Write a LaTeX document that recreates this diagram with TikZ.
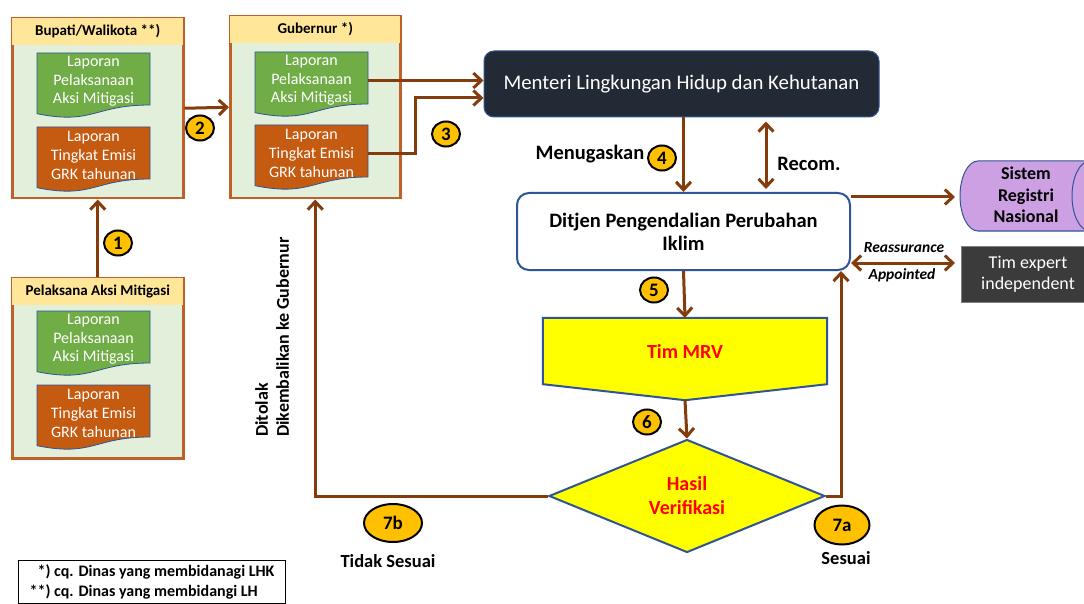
\documentclass[tikz,border=0pt]{standalone}
\usepackage{fontspec}
\setmainfont{Carlito}
\usetikzlibrary{arrows.meta,calc,shapes.geometric}

\definecolor{panah}{RGB}{132,60,12}
\definecolor{bingkai}{RGB}{191,96,40}
\definecolor{kepala}{RGB}{255,230,153}
\definecolor{isi}{RGB}{226,239,218}
\definecolor{hijau}{RGB}{112,173,71}
\definecolor{oranye}{RGB}{197,90,17}
\definecolor{garisbiru}{RGB}{47,85,151}
\definecolor{gelap}{RGB}{34,42,53}
\definecolor{ungu}{RGB}{204,160,226}
\definecolor{abu}{RGB}{59,59,59}
\definecolor{kuning}{RGB}{255,255,0}
\definecolor{emas}{RGB}{255,192,0}

\newcommand{\ukuran}[2]{\fontsize{#1}{#2}\selectfont}

% laporan: name, x, y (top left), colour, text
\newcommand{\laporan}[5]{%
  \begin{scope}[shift={(#2,#3)}]
    \filldraw[fill=#4,draw=garisbiru,line width=0.8](0,0)--(113,0)--(113,52)
      .. controls (56.5,52) and (56.5,72) .. (0,60.7)--cycle;
    \node[laptext](#1) at(56.5,28.5){#5};
  \end{scope}}

% kelompok: name, x, y (top left), width, height, title
\newcommand{\kelompok}[6]{%
  \node[grup,minimum width=#4,minimum height=#5,anchor=north west](#1) at(#2,#3){};
  \fill[kepala]($(#1.north west)+(1.3,1.3)$) rectangle ($(#1.north east)+(-1.3,28)$);
  \node[judul] at($(#1.north)+(0,14.5)$){#6};}

\begin{document}
\begin{tikzpicture}[x=1pt,y=-1pt,
	grup/.style={draw=bingkai,fill=isi,line width=2.5,inner sep=0},
	judul/.style={font=\ukuran{15}{18}\bfseries},
	laptext/.style={text=white,align=center,font=\ukuran{16}{18.6},minimum width=113pt,inner sep=0},
	panahan/.style={draw=panah,line width=3,-{Straight Barb[length=8pt,width=15pt]}},
	duapanah/.style={draw=panah,line width=3,{Straight Barb[length=8pt,width=15pt]}-{Straight Barb[length=8pt,width=15pt]}},
	nomor/.style={ellipse,draw=black,fill=emas,line width=2,inner sep=0,minimum width=28pt,minimum height=25pt,font=\ukuran{19}{20}\bfseries},
	ket/.style={font=\ukuran{20.5}{24}\bfseries}]
	\clip(0,0) rectangle (1084,604);
	\fill[white](0,0) rectangle (1084,604);
	% laporan boxes
	\kelompok{bup}{11}{17}{171pt}{180pt}{Bupati/Walikota **)}
	\kelompok{gub}{229}{15}{170pt}{182pt}{Gubernur *)}
	\kelompok{pel}{11}{277}{171pt}{180pt}{Pelaksana Aksi Mitigasi}
	\laporan{bupG}{37}{53}{hijau}{Laporan\\Pelaksanaan\\Aksi Mitigasi}
	\laporan{bupO}{37}{127}{oranye}{Laporan\\Tingkat Emisi\\GRK tahunan}
	\laporan{gubG}{255}{52}{hijau}{Laporan\\Pelaksanaan\\Aksi Mitigasi}
	\laporan{gubO}{255}{125}{oranye}{Laporan\\Tingkat Emisi\\GRK tahunan}
	\laporan{pelG}{37}{311}{hijau}{Laporan\\Pelaksanaan\\Aksi Mitigasi}
	\laporan{pelO}{37}{385}{oranye}{Laporan\\Tingkat Emisi\\GRK tahunan}
	% kementerian
	\node[fill=gelap,draw=garisbiru,line width=1,rounded corners=10,minimum width=395pt,minimum height=66pt,text=white,font=\ukuran{20.8}{25}](menteri) at(681.5,84){Menteri Lingkungan Hidup dan Kehutanan};
	\node[fill=white,draw=garisbiru,line width=2,rounded corners=12,minimum width=333pt,minimum height=77pt,align=center,font=\ukuran{20.5}{23}\bfseries](ditjen) at(683.5,231.5){Ditjen Pengendalian Perubahan\\Iklim};
	% registri
	\filldraw[fill=ungu,draw=garisbiru,line width=1](1090,161)--(978,161) arc[start angle=270,end angle=90,x radius=18,y radius=35]--(1090,231) arc[start angle=90,end angle=-90,x radius=18,y radius=35]--cycle;
	\draw[garisbiru,line width=1](1090,161) arc[start angle=270,end angle=90,x radius=18,y radius=35];
	\node[align=center,font=\ukuran{18}{21.5}\bfseries](sistem) at(1026,195){Sistem\\Registri\\Nasional};
	\coordinate(sistemL) at(955,197);
	\node[fill=abu,draw=gray,line width=0.8,minimum width=134pt,minimum height=56pt,text=white,align=center,font=\ukuran{18}{21}](expert) at(1028,274){Tim expert\\independent};
	\coordinate(expertL) at(955,263);
	% verifikasi
	\node[minimum width=284pt,minimum height=66pt](mrv) at(685,351){};
	\filldraw[fill=kuning,draw=garisbiru,line width=2](mrv.north west)--(mrv.north east)--(mrv.south east)--($(mrv.south)+(0,16)$) coordinate(mrvtip)--(mrv.south west)--cycle;
	\node[text=red,font=\ukuran{20}{24}\bfseries] at(mrv){Tim MRV};
	\node[diamond,aspect=2.44,fill=kuning,draw=garisbiru,line width=2,minimum width=276pt,minimum height=113pt,inner sep=0,text=red,align=center,font=\ukuran{20}{24}\bfseries](hasil) at(687,496){Hasil\\Verifikasi};
	% arrows
	\draw[panahan](pel.north)--(bup.south);
	\draw[panahan](bup.east)--(gub.west);
	\draw[panahan](gubG.east)--(gubG.east -| menteri.west);
	\draw[panahan](gubO.east)--++(47,0)|-($(menteri.west)+(0,14)$);
	\draw[panahan](ditjen.north |- menteri.south)--(ditjen.north);
	\coordinate(rekom) at(766,0);
	\draw[duapanah]($(rekom |- menteri.south)+(0,4)$)--($(rekom |- ditjen.north)+(0,-3)$);
	\draw[panahan](ditjen.east |- sistemL)--(sistemL);
	\draw[duapanah](ditjen.east |- expertL)--(expertL);
	\draw[panahan](ditjen.south)--(mrv.north);
	\draw[panahan](mrvtip)--(hasil.north);
	\draw[panahan](hasil.east)-|($(ditjen.south east)+(-10,0)$);
	\draw[panahan](hasil.west)-|(gub.south);
	% numbers
	\node[nomor](n1) at(118,243){1};
	\node[nomor](n2) at(200,128){2};
	\node[nomor](n3) at(446,134){3};
	\node[nomor](n4) at(662,158){4};
	\node[nomor](n5) at(654,290){5};
	\node[nomor](n6) at(647,422){6};
	\node[nomor,minimum width=55pt,minimum height=39pt](n7a) at(842,525){7a};
	\node[nomor,minimum width=58pt,minimum height=38pt](n7b) at(393,523){7b};
	% labels
	\node[ket](tugas) at(590,154){Menugaskan};
	\node[ket](recom) at(809,164){Recom.};
	\node[font=\ukuran{15.5}{18}\bfseries\itshape](reas) at(904,248){Reassurance};
	\node[font=\ukuran{15.5}{18}\bfseries\itshape](appt) at(902,275){Appointed};
	\node[font=\ukuran{18.5}{22}\bfseries](sesuai) at(846,558){Sesuai};
	\node[font=\ukuran{18.5}{22}\bfseries](tidak) at(388,561){Tidak Sesuai};
	\node[rotate=90,anchor=west,align=left,inner sep=0,font=\ukuran{18}{21}\bfseries](tolak) at(272,437){Ditolak\\Dikembalikan ke Gubernur};
	\node[draw=black,line width=1,anchor=north west,align=left,inner xsep=10pt,inner ysep=4pt,minimum width=267pt,font=\ukuran{16}{20}\bfseries](catatan) at(18,560){\phantom{*}*) cq. Dinas yang membidanagi LHK\\**) cq. Dinas yang membidangi LH};
\end{tikzpicture}
\end{document}
